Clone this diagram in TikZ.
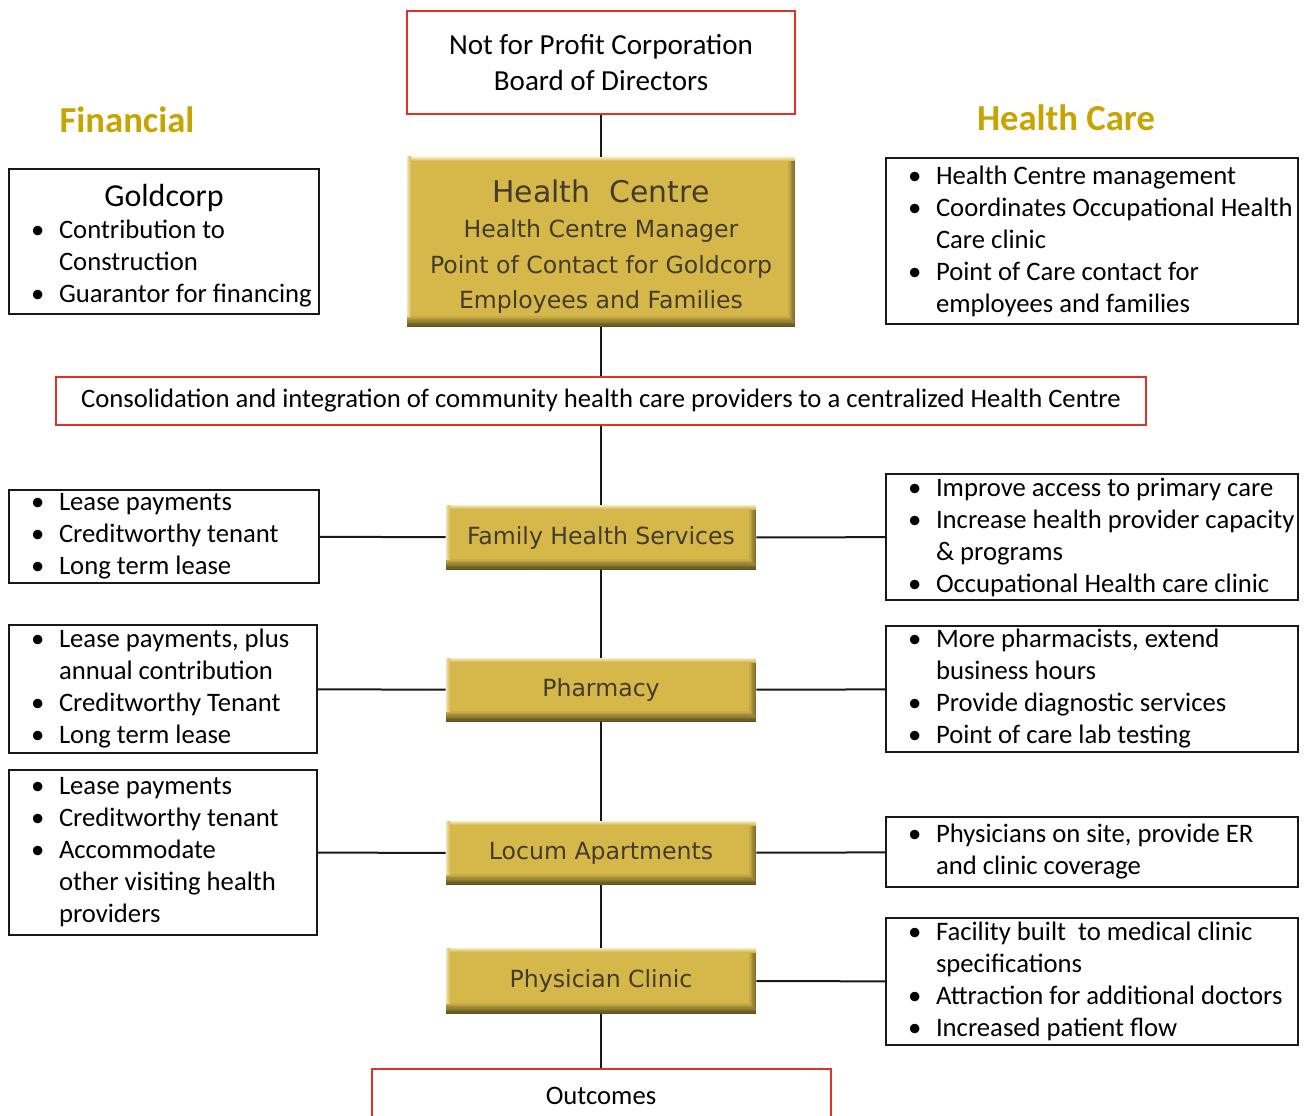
\documentclass[tikz,border=0pt]{standalone}
\usepackage{fontspec}
\setmainfont{Carlito}
\newfontfamily\gfont{DejaVu Sans}
\usepackage{enumitem}
\usetikzlibrary{positioning}
\definecolor{gold}{RGB}{214,184,74}
\definecolor{goldtext}{RGB}{66,60,46}
\definecolor{headgold}{RGB}{200,164,0}
\definecolor{boxred}{RGB}{222,52,40}
\newcommand{\bfnt}{\fontsize{20}{24}\selectfont}
\setlist[itemize]{leftmargin=37.5pt, labelsep=11pt, nosep, label=\textbullet}
% bullet list set in a box of the given width
\newcommand{\blist}[2]{\begin{minipage}{#1}\raggedright\begin{itemize}#2\end{itemize}\end{minipage}}
\tikzstyle{redbox}=[draw=boxred, line width=1.5pt, align=center, font=\bfnt, inner sep=0pt]
\tikzstyle{listbox}=[draw=black!90, line width=1.4pt, inner sep=0pt, font=\bfnt]
\tikzstyle{goldbox}=[fill=gold, text=goldtext, inner sep=0pt, align=center,
  minimum width=232.5pt, font=\gfont\fontsize{17.7}{26.5}\selectfont,
  path picture={
    \foreach \i in {1,...,8}
      \fill[gold!\the\numexpr100-\i*7\relax!black] ([yshift=9pt-\i pt]path picture bounding box.south west) rectangle (path picture bounding box.south east);
    \foreach \i in {1,...,5}
      \fill[gold!\the\numexpr100-\i*8\relax!black] ([xshift=-6pt+\i pt]path picture bounding box.north east) rectangle ([yshift=9pt-\i pt]path picture bounding box.south east);
    \shade[top color=gold!30!white, bottom color=gold] (path picture bounding box.north west) rectangle ([yshift=-3pt]path picture bounding box.north east);
    \shade[left color=gold!40!white, right color=gold] (path picture bounding box.north west) rectangle ([xshift=3pt,yshift=8pt]path picture bounding box.south west);
  }]
\tikzstyle{heading}=[text=headgold, font=\fontsize{27.5}{30}\selectfont\bfseries]
\tikzstyle{conn}=[line width=1.5pt, black!90]

\begin{document}
\begin{tikzpicture}[x=0.75pt, y=-0.75pt]
\useasboundingbox (0,0) rectangle (1304,1116);
% middle column
\node [redbox, minimum width=291pt, minimum height=77.25pt, font=\fontsize{21.8}{26.5}\selectfont] (board) at (601,62.5)
  {Not for Profit Corporation\\Board of Directors};
\node [goldbox, minimum width=291pt, minimum height=127.5pt] (centre) at (601,242)
  {\rule{0pt}{24pt}{\fontsize{22.4}{28}\selectfont Health\ \ Centre}\\Health Centre Manager\\Point of Contact for Goldcorp\\Employees and Families};
\node [redbox, minimum width=817.5pt, minimum height=36pt] (consol) at (601,401)
  {Consolidation and integration of community health care providers to a centralized Health Centre};
\node [goldbox, minimum height=48.75pt] (fhs) at (601,537.5) {Family Health Services};
\node [goldbox, minimum height=48pt] (pharm) at (601,690) {Pharmacy};
\node [goldbox, minimum height=48pt] (locum) at (601,853) {Locum Apartments};
\node [goldbox, minimum height=49.5pt] (clinic) at (601,981) {Physician Clinic};
\node [redbox, minimum width=344.25pt, minimum height=40.5pt] (outcomes) at (601,1096) {Outcomes};

% headings
\node [heading] (fin) at (127,120) {Financial};
\node [heading] (care) at (1066,118) {Health Care};

% financial side
\node [listbox, minimum width=232.5pt, minimum height=108.75pt] (goldcorp) at (164,241.5)
  {\begin{minipage}{232.5pt}\vspace*{6pt}\centering\fontsize{24}{30}\selectfont Goldcorp\par
   \bfnt\raggedright
   \begin{itemize}
   \item Contribution to\newline Construction
   \item Guarantor for financing
   \end{itemize}\end{minipage}};
\node [listbox, minimum height=69.75pt] (fhsL) at (164,536.5)
  {\blist{232.5pt}{
   \item Lease payments
   \item Creditworthy tenant
   \item Long term lease}};
\node [listbox, minimum height=96pt] (pharmL) at (163,689)
  {\blist{231pt}{
   \item Lease payments, plus\newline annual contribution
   \item Creditworthy Tenant
   \item Long term lease}};
\node [listbox, minimum height=123.75pt] (locumL) at (163,852.5)
  {\blist{231pt}{
   \item Lease payments
   \item Creditworthy tenant
   \item Accommodate\newline other visiting health\newline providers}};

% health care side
\node [listbox, minimum height=124.5pt] (centreR) at (1092,241)
  {\blist{309pt}{
   \item Health Centre management
   \item Coordinates Occupational Health\newline Care clinic
   \item Point of Care contact for\newline employees and families}};
\node [listbox, minimum height=94.5pt] (fhsR) at (1092,537)
  {\blist{309pt}{
   \item Improve access to primary care
   \item Increase health provider capacity\newline \& programs
   \item Occupational Health care clinic}};
\node [listbox, minimum height=94.5pt] (pharmR) at (1092,689)
  {\blist{309pt}{
   \item More pharmacists, extend\newline business hours
   \item Provide diagnostic services
   \item Point of care lab testing}};
\node [listbox, minimum height=52.5pt] (locumR) at (1092,852)
  {\blist{309pt}{
   \item Physicians on site, provide ER\newline and clinic coverage}};
\node [listbox, minimum height=95.25pt] (clinicR) at (1092,981.5)
  {\blist{309pt}{
   \item Facility built~ to medical clinic\newline specifications
   \item Attraction for additional doctors
   \item Increased patient flow}};

% connectors
\draw [conn] (board)--(centre) (centre)--(consol) (consol)--(fhs) (fhs)--(pharm)
  (pharm)--(locum) (locum)--(clinic) (clinic)--(outcomes);
\draw [conn] (fhsL)--(fhs)--(fhsR) (pharmL)--(pharm)--(pharmR)
  (locumL)--(locum)--(locumR) (clinic)--(clinicR);
\end{tikzpicture}
\end{document}
